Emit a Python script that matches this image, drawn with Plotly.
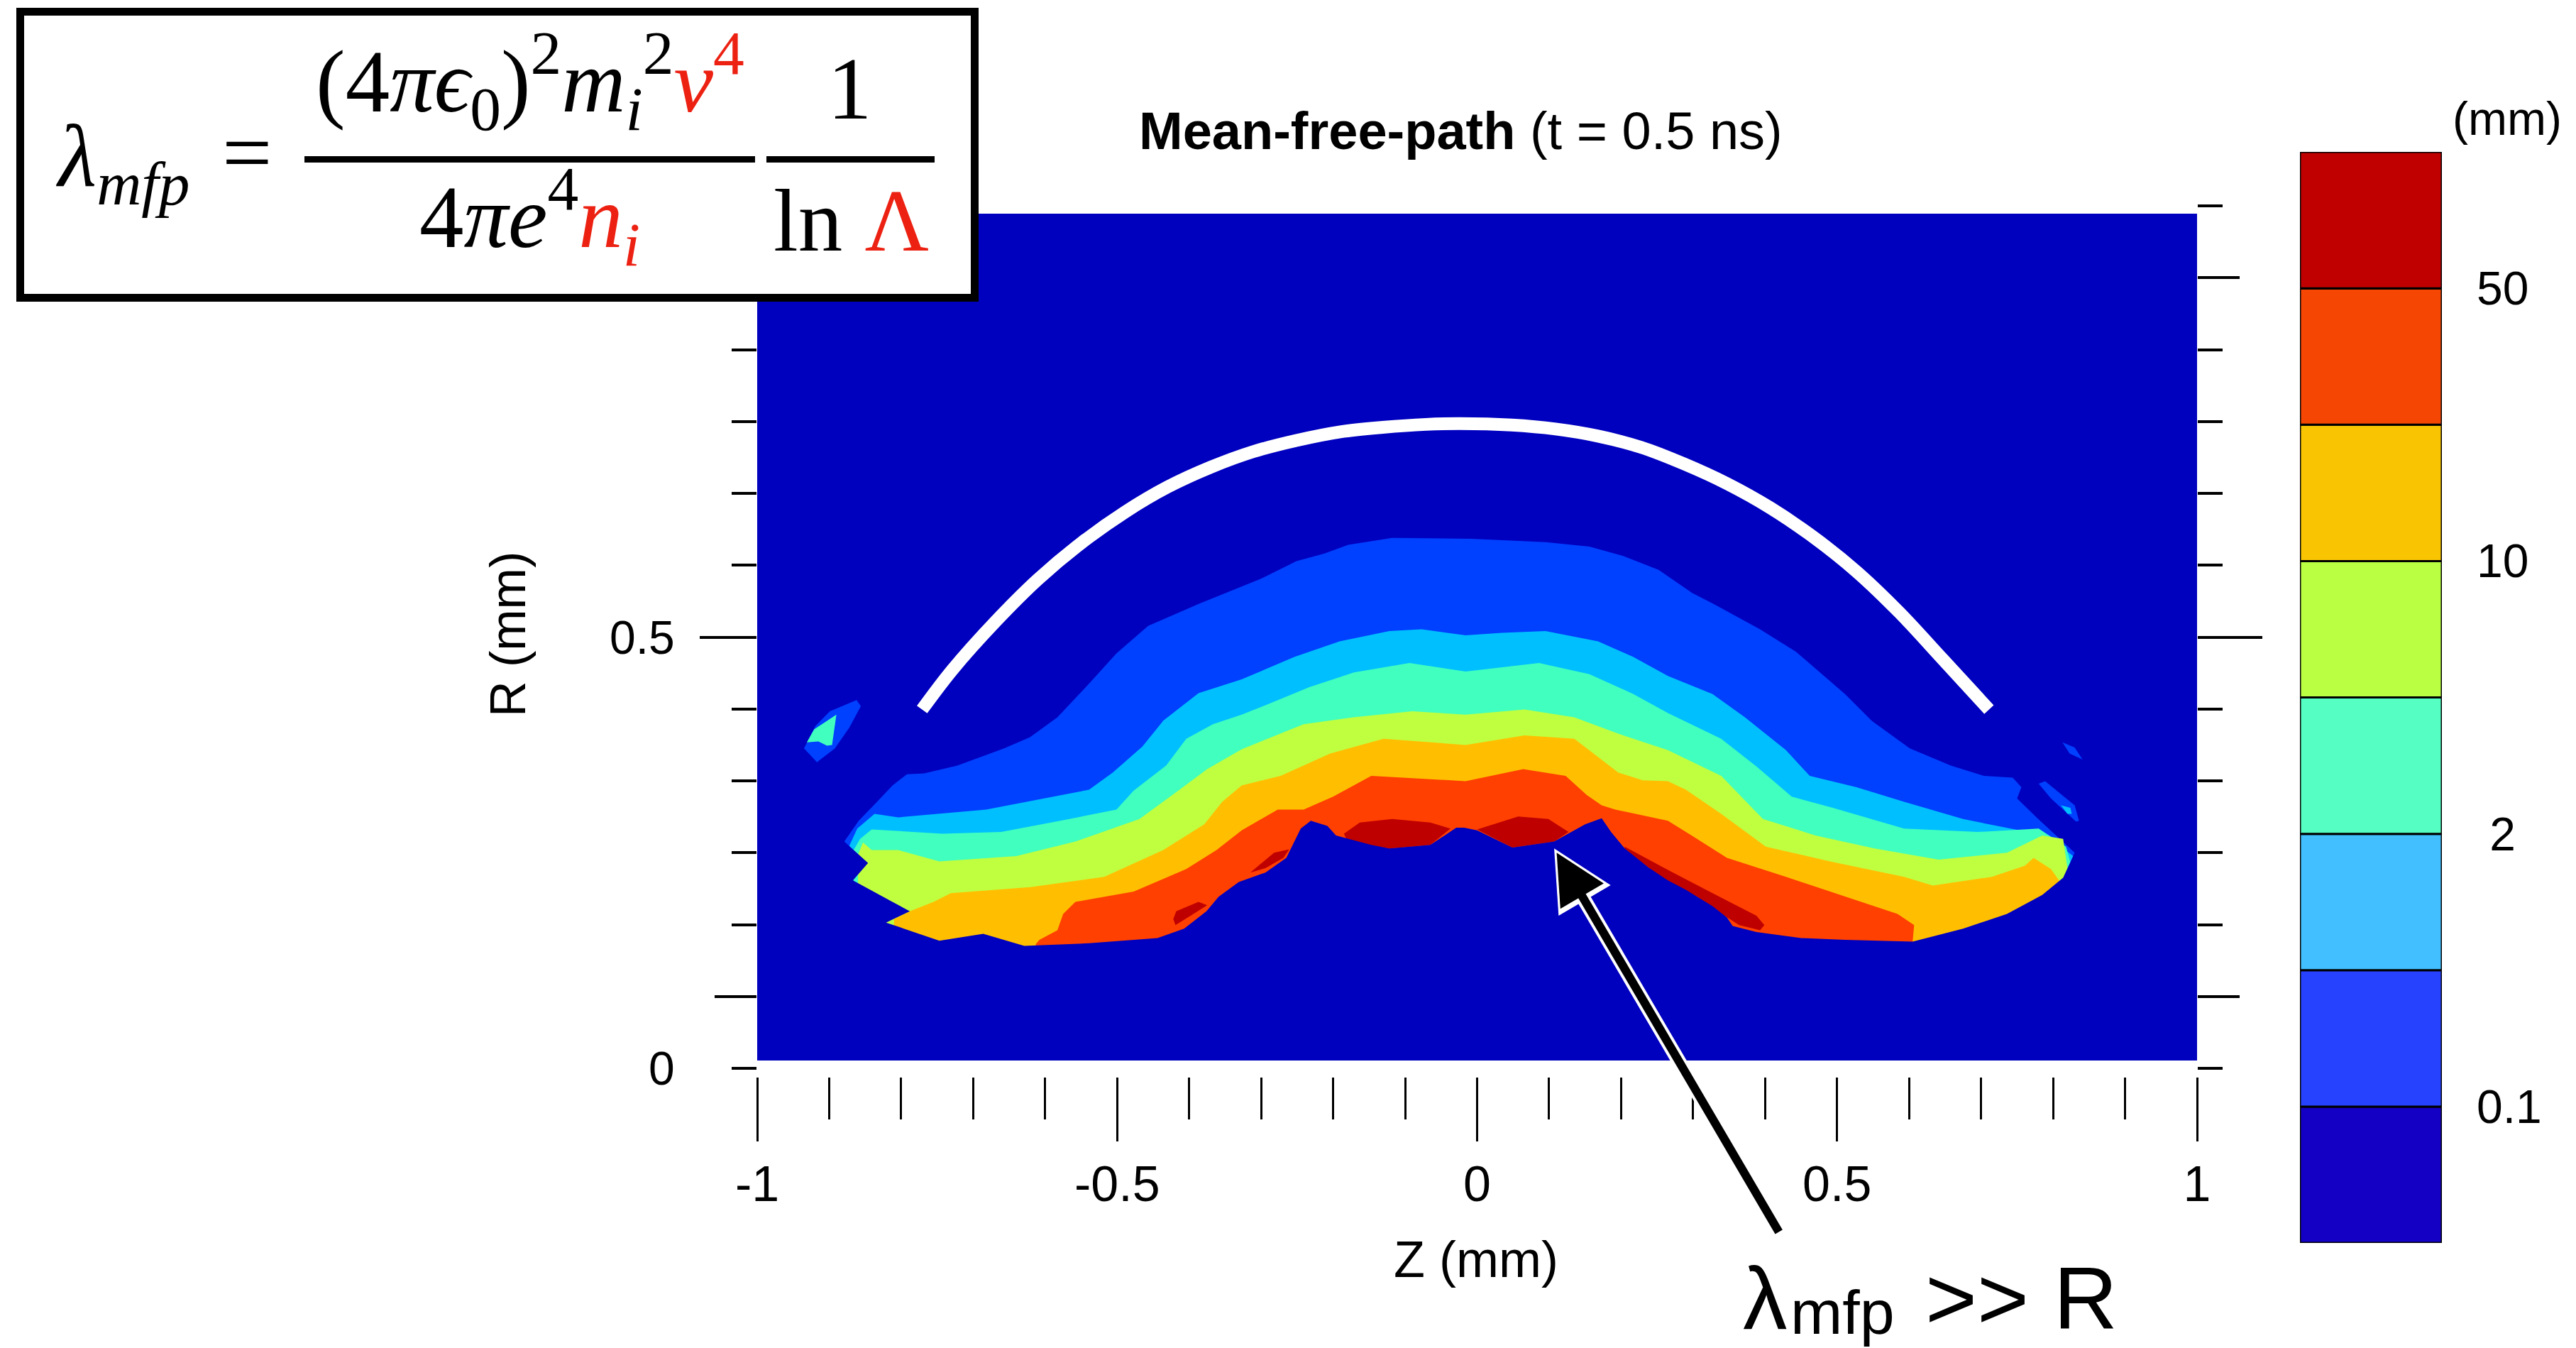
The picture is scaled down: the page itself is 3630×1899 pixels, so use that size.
import plotly.graph_objects as go

# ------------------------------------------------------------------ data (mm)
BAND_COLORS = ['#0000BF', '#0040FF', '#00BFFF', '#40FFBF', '#BFFF40', '#FFBF00', '#FF4000', '#BF0000']
CBAR_COLORS = ['#1400C4', '#2642FF', '#42BFFF', '#55FFC4', '#BBFF43', '#F9C502', '#F54703', '#C00000']
CBAR_BAND_HEIGHT = [1, 1, 1, 1, 1, 1, 1, 1]
CBAR_TICK_VALUES = [1, 3, 5, 7]
CBAR_TICK_TEXT = ['0.1', '\u00a02', '10', '50']

X_TICKS = [-1, -0.5, 0, 0.5, 1]
X_TICK_TEXT = ['-1', '-0.5', '0', '0.5', '1']
X_MINOR = [-0.9, -0.8, -0.7, -0.6, -0.4, -0.3, -0.2, -0.1, 0.1, 0.2, 0.3, 0.4, 0.6, 0.7, 0.8, 0.9]
Y_LABEL_TICKS = [0, 0.5]
Y_LABEL_TEXT = ['0', '0.5']
Y_TWELFTHS = [k / 12 for k in range(13)]
Y_MID_TICKS = [1 / 12, 11 / 12]
Y_LONG_TICKS = [0.5]

DOMAIN_Z = [-1.0, 1.0]
DOMAIN_R = [0.009, 0.991]

# upper boundaries of the filled levels (Z, R in mm)
LV1_Z = [-0.879, -0.859, -0.837, -0.812, -0.792, -0.768, -0.722, -0.657, -0.621, -0.583, -0.539, -0.501, -0.457,
         -0.385, -0.302, -0.251, -0.212, -0.179, -0.118, -0.008, 0.095, 0.156, 0.203, 0.252, 0.299, 0.327, 0.393,
         0.443, 0.511, 0.548, 0.601, 0.658, 0.704, 0.744, 0.756, 0.750, 0.777, 0.830]
LV1_R = [0.263, 0.287, 0.306, 0.328, 0.341, 0.342, 0.351, 0.371, 0.384, 0.407, 0.446, 0.481, 0.513,
         0.539, 0.567, 0.588, 0.597, 0.607, 0.615, 0.614, 0.610, 0.605, 0.594, 0.578, 0.551, 0.539, 0.509,
         0.483, 0.434, 0.403, 0.371, 0.351, 0.339, 0.337, 0.326, 0.313, 0.291, 0.250]

LV2_Z = [-0.872, -0.861, -0.837, -0.804, -0.682, -0.600, -0.539, -0.506, -0.465, -0.436, -0.387, -0.327, -0.254,
         -0.191, -0.122, -0.077, -0.016, 0.034, 0.095, 0.168, 0.217, 0.265, 0.327, 0.372, 0.429, 0.462, 0.527,
         0.593, 0.675, 0.765, 0.797, 0.828]
LV2_R = [0.258, 0.278, 0.295, 0.291, 0.300, 0.313, 0.323, 0.343, 0.373, 0.403, 0.435, 0.451, 0.477,
         0.495, 0.507, 0.509, 0.502, 0.505, 0.507, 0.495, 0.477, 0.455, 0.434, 0.407, 0.369, 0.339, 0.326,
         0.309, 0.289, 0.274, 0.266, 0.246]

LV3_Z = [-0.866, -0.857, -0.841, -0.743, -0.661, -0.579, -0.501, -0.477, -0.432, -0.404, -0.367, -0.327, -0.294,
         -0.233, -0.171, -0.094, -0.016, 0.086, 0.156, 0.217, 0.265, 0.339, 0.388, 0.437, 0.494, 0.593, 0.695,
         0.769, 0.780, 0.818, 0.824]
LV3_R = [0.253, 0.266, 0.277, 0.272, 0.274, 0.287, 0.300, 0.322, 0.351, 0.382, 0.399, 0.410, 0.421,
         0.442, 0.459, 0.470, 0.460, 0.470, 0.457, 0.434, 0.412, 0.382, 0.350, 0.315, 0.302, 0.278, 0.274,
         0.277, 0.278, 0.257, 0.239]

LV4_Z = [-0.860, -0.853, -0.841, -0.804, -0.747, -0.640, -0.558, -0.469, -0.415, -0.375, -0.327, -0.241, -0.172,
         -0.090, -0.016, 0.066, 0.135, 0.196, 0.265, 0.339, 0.397, 0.470, 0.552, 0.641, 0.736, 0.785, 0.814, 0.820]
LV4_R = [0.248, 0.262, 0.253, 0.253, 0.240, 0.246, 0.263, 0.289, 0.322, 0.347, 0.370, 0.399, 0.407,
         0.414, 0.410, 0.416, 0.407, 0.388, 0.369, 0.339, 0.289, 0.270, 0.255, 0.242, 0.250, 0.270, 0.266, 0.232]

LV5_Z = [-0.810, -0.788, -0.755, -0.731, -0.621, -0.518, -0.436, -0.379, -0.354, -0.327, -0.273, -0.204, -0.130,
         -0.016, 0.066, 0.135, 0.196, 0.230, 0.265, 0.290, 0.339, 0.401, 0.490, 0.593, 0.633, 0.715, 0.761,
         0.773, 0.797, 0.809]
LV5_R = [0.173, 0.182, 0.193, 0.203, 0.210, 0.222, 0.253, 0.283, 0.309, 0.328, 0.339, 0.365, 0.382,
         0.375, 0.386, 0.382, 0.343, 0.334, 0.333, 0.323, 0.295, 0.257, 0.240, 0.222, 0.212, 0.222, 0.235,
         0.244, 0.231, 0.217]

LV6_Z = [-0.613, -0.608, -0.583, -0.575, -0.558, -0.477, -0.404, -0.362, -0.327, -0.277, -0.241, -0.200, -0.147,
         -0.016, 0.064, 0.123, 0.152, 0.173, 0.192, 0.265, 0.298, 0.347, 0.429, 0.519, 0.584, 0.607, 0.605]
LV6_R = [0.144, 0.149, 0.160, 0.179, 0.193, 0.205, 0.231, 0.253, 0.276, 0.300, 0.300, 0.315, 0.339,
         0.333, 0.347, 0.339, 0.317, 0.305, 0.300, 0.287, 0.270, 0.244, 0.222, 0.197, 0.179, 0.166, 0.147]

# highest level (dark red) patches
RED_A_Z = [-0.422, -0.418, -0.387, -0.375, -0.396, -0.419]
RED_A_R = [0.173, 0.182, 0.193, 0.189, 0.178, 0.166]
RED_B_Z = [-0.315, -0.282, -0.261, -0.269, -0.294]
RED_B_R = [0.227, 0.250, 0.254, 0.244, 0.232]
RED_C_Z = [-0.185, -0.163, -0.118, -0.065, -0.037, -0.065, -0.122, -0.180]
RED_C_R = [0.272, 0.285, 0.289, 0.285, 0.278, 0.259, 0.255, 0.263]
RED_D_Z = [0.000, 0.057, 0.099, 0.127, 0.107, 0.049]
RED_D_R = [0.277, 0.292, 0.289, 0.274, 0.263, 0.256]
RED_E_Z = [0.205, 0.265, 0.327, 0.388, 0.399, 0.393, 0.364, 0.347, 0.323, 0.306, 0.265, 0.238, 0.205]
RED_E_R = [0.257, 0.230, 0.203, 0.177, 0.166, 0.160, 0.166, 0.175, 0.188, 0.199, 0.214, 0.233, 0.253]

# lower (inner) boundary of the shell
LOWER_Z = [-0.879, -0.846, -0.867, -0.788, -0.821, -0.747, -0.686, -0.629, -0.539, -0.444, -0.407, -0.376, -0.359,
           -0.331, -0.294, -0.265, -0.245, -0.231, -0.208, -0.196, -0.147, -0.122, -0.065, -0.029, -0.018, 0.000,
           0.049, 0.107, 0.150, 0.173, 0.186, 0.205, 0.238, 0.265, 0.290, 0.306, 0.327, 0.347, 0.355, 0.388,
           0.450, 0.511, 0.605, 0.675, 0.736, 0.785, 0.814, 0.830]
LOWER_R = [0.263, 0.238, 0.218, 0.182, 0.169, 0.148, 0.156, 0.142, 0.145, 0.151, 0.162, 0.182, 0.199,
           0.216, 0.227, 0.244, 0.278, 0.287, 0.281, 0.270, 0.259, 0.255, 0.259, 0.279, 0.279, 0.276,
           0.256, 0.263, 0.283, 0.290, 0.274, 0.255, 0.233, 0.218, 0.207, 0.199, 0.188, 0.175, 0.165, 0.158,
           0.151, 0.149, 0.147, 0.162, 0.179, 0.201, 0.221, 0.250]

# small isolated patches
BLOB_L_Z = [-0.935, -0.919, -0.899, -0.862, -0.856, -0.864, -0.872, -0.892, -0.917]
BLOB_L_R = [0.371, 0.397, 0.414, 0.427, 0.420, 0.407, 0.395, 0.371, 0.355]
BLOB_L_IN_Z = [-0.931, -0.921, -0.890, -0.896, -0.903, -0.915]
BLOB_L_IN_R = [0.378, 0.393, 0.410, 0.375, 0.374, 0.379]
BLOB_RA_Z = [0.813, 0.830, 0.841, 0.823]
BLOB_RA_R = [0.378, 0.372, 0.358, 0.365]
BLOB_RB_Z = [0.780, 0.789, 0.830, 0.836, 0.832, 0.797]
BLOB_RB_R = [0.330, 0.333, 0.305, 0.287, 0.286, 0.313]
BLOB_RB_IN_Z = [0.811, 0.824, 0.826, 0.820]
BLOB_RB_IN_R = [0.305, 0.302, 0.295, 0.295]

# white arc
ARC_Z = [-0.771, -0.729, -0.669, -0.610, -0.550, -0.489, -0.430, -0.370, -0.311, -0.251, -0.190, -0.131, -0.071,
         -0.024, 0.048, 0.109, 0.168, 0.228, 0.287, 0.347, 0.407, 0.467, 0.527, 0.586, 0.646, 0.711]
ARC_R = [0.416, 0.462, 0.518, 0.567, 0.609, 0.645, 0.674, 0.697, 0.715, 0.728, 0.738, 0.7432, 0.7466,
         0.7475, 0.7458, 0.7412, 0.733, 0.720, 0.701, 0.678, 0.650, 0.616, 0.576, 0.529, 0.475, 0.416]

# arrow (tip and tail, mm)
ARROW_TIP = (0.107, 0.255)
ARROW_TAIL = (0.420, -0.191)

# ------------------------------------------------------------------ layout helpers
W, H = 3630, 1899
M_L, M_R, M_T, M_B = 1067, 189, 214, 148
PW = W - M_L - M_R
PH = H - M_T - M_B


def px(X):
    return (X - M_L) / PW


def py(Y):
    return (H - M_B - Y) / PH


SANS = "Liberation Sans, Arial, Helvetica, sans-serif"
SERIF = "Liberation Serif, Times New Roman, DejaVu Serif, serif"
RED = "#EC2112"

fig = go.Figure()


def poly(z, r, color):
    fig.add_trace(go.Scatter(x=z, y=r, mode='lines', fill='toself', fillcolor=color,
                             line=dict(width=0, color=color), hoverinfo='skip', showlegend=False))


def below(z, r, base):
    return list(z) + [z[-1], z[0]], list(r) + [base, base]


base = DOMAIN_R[0]
poly([DOMAIN_Z[0], DOMAIN_Z[1], DOMAIN_Z[1], DOMAIN_Z[0]],
     [DOMAIN_R[0], DOMAIN_R[0], DOMAIN_R[1], DOMAIN_R[1]], BAND_COLORS[0])

levels = [(LV1_Z, LV1_R), (LV2_Z, LV2_R), (LV3_Z, LV3_R), (LV4_Z, LV4_R), (LV5_Z, LV5_R), (LV6_Z, LV6_R)]
for i, (z, r) in enumerate(levels):
    zz, rr = below(z, r, base)
    poly(zz, rr, BAND_COLORS[i + 1])

for z, r in [(RED_A_Z, RED_A_R), (RED_B_Z, RED_B_R), (RED_C_Z, RED_C_R), (RED_D_Z, RED_D_R), (RED_E_Z, RED_E_R)]:
    poly(z, r, BAND_COLORS[7])

# inner region (below the lower boundary), extended sideways to the domain edges
hz = list(LOWER_Z) + [DOMAIN_Z[1], DOMAIN_Z[1], DOMAIN_Z[0], DOMAIN_Z[0]]
hr = list(LOWER_R) + [LOWER_R[-1], base, base, LOWER_R[0]]
poly(hz, hr, BAND_COLORS[0])

poly(BLOB_L_Z, BLOB_L_R, BAND_COLORS[1])
poly(BLOB_L_IN_Z, BLOB_L_IN_R, BAND_COLORS[3])
poly(BLOB_RA_Z, BLOB_RA_R, BAND_COLORS[1])
poly(BLOB_RB_Z, BLOB_RB_R, BAND_COLORS[1])
poly(BLOB_RB_IN_Z, BLOB_RB_IN_R, BAND_COLORS[2])

fig.add_trace(go.Scatter(x=ARC_Z, y=ARC_R, mode='lines',
                         line=dict(color='white', width=18, shape='spline', smoothing=1.0),
                         hoverinfo='skip', showlegend=False))

# empty traces so that the tick-only overlay axes exist
for ya in ['y2', 'y3', 'y4', 'y5', 'y6']:
    fig.add_trace(go.Scatter(x=[], y=[], yaxis=ya, xaxis='x', showlegend=False))

# colour bar drawn as stacked blocks
fig.add_trace(go.Bar(x=[0] * len(CBAR_COLORS), y=CBAR_BAND_HEIGHT,
                     base=[sum(CBAR_BAND_HEIGHT[:i]) for i in range(len(CBAR_BAND_HEIGHT))],
                     width=1, marker=dict(color=CBAR_COLORS, line=dict(color='black', width=3)),
                     xaxis='x2', yaxis='y7', showlegend=False, hoverinfo='skip'))

# ------------------------------------------------------------------ axes
ydom = [py(1505), py(290)]
tickfont_y = dict(family=SANS, size=66, color='black')
common_y = dict(range=[0, 1], showgrid=False, zeroline=False, showline=False, anchor='x', domain=ydom,
                tickcolor='black', tickwidth=4, ticks='outside', tickmode='array')

fig.update_layout(
    width=W, height=H, autosize=False,
    margin=dict(l=M_L, r=M_R, t=M_T, b=M_B, pad=0),
    paper_bgcolor='white', plot_bgcolor='white',
    showlegend=False, barmode='overlay',
    xaxis=dict(range=DOMAIN_Z, domain=[0, px(3096)], anchor='free', position=py(1517),
               showgrid=False, zeroline=False, showline=False,
               tickmode='array', tickvals=X_TICKS, ticktext=X_TICK_TEXT,
               ticks='outside', ticklen=90, tickwidth=3, tickcolor='black',
               tickfont=dict(family=SANS, size=70, color='black'), ticklabelstandoff=0,
               minor=dict(tickmode='array', tickvals=X_MINOR, ticks='outside', ticklen=59,
                          tickwidth=3, tickcolor='black', showgrid=False)),
    yaxis=dict(**common_y, side='left', tickvals=Y_LABEL_TICKS, ticktext=Y_LABEL_TEXT, ticklen=35,
               tickfont=tickfont_y, ticklabelstandoff=67,
               minor=dict(tickmode='array', tickvals=Y_TWELFTHS, ticks='outside', ticklen=35,
                          tickwidth=4, tickcolor='black', showgrid=False)),
    yaxis2=dict(**common_y, overlaying='y', side='left', tickvals=Y_MID_TICKS, ticklen=59, showticklabels=False),
    yaxis3=dict(**common_y, overlaying='y', side='left', tickvals=Y_LONG_TICKS, ticklen=80, showticklabels=False),
    yaxis4=dict(**common_y, overlaying='y', side='right', tickvals=Y_TWELFTHS, ticklen=35, showticklabels=False),
    yaxis5=dict(**common_y, overlaying='y', side='right', tickvals=Y_MID_TICKS, ticklen=59, showticklabels=False),
    yaxis6=dict(**common_y, overlaying='y', side='right', tickvals=Y_LONG_TICKS, ticklen=91, showticklabels=False),
    xaxis2=dict(domain=[px(3241), px(3441)], range=[-0.5, 0.5], anchor='y7', visible=False, fixedrange=True),
    yaxis7=dict(domain=[py(1751), py(214)], range=[0, sum(CBAR_BAND_HEIGHT)], anchor='x2', side='right',
                showgrid=False, zeroline=False, showline=False, tickmode='array',
                tickvals=CBAR_TICK_VALUES, ticktext=CBAR_TICK_TEXT, ticks='',
                tickfont=dict(family=SANS, size=66, color='black'), ticklabelstandoff=48),
)

# ------------------------------------------------------------------ formula box
fig.add_shape(type='rect', xref='paper', yref='paper', x0=px(28.5), x1=px(1373.5), y0=py(419.5), y1=py(16.5),
              line=dict(color='black', width=11), fillcolor='white', layer='above')
fig.add_shape(type='line', xref='paper', yref='paper', x0=px(429), x1=px(1064), y0=py(224.5), y1=py(224.5),
              line=dict(color='black', width=9), layer='above')
fig.add_shape(type='line', xref='paper', yref='paper', x0=px(1080), x1=px(1317), y0=py(224.5), y1=py(224.5),
              line=dict(color='black', width=9), layer='above')

annotations = []


def txt(text, X, Y, size, family=SANS, color='black', **kw):
    annotations.append(dict(text=text, x=px(X), y=py(Y), xref='paper', yref='paper', showarrow=False,
                            xanchor='center', yanchor='middle', font=dict(family=family, size=size, color=color),
                            **kw))


F = 125
txt('<i>λ</i><sub><i>mfp</i></sub>', 172, 229, F, SERIF)
txt('=', 348, 215, F, SERIF)
txt('(4<i>πϵ</i><sub>0</sub>)<sup>2</sup><i>m</i><sub><i>i</i></sub><sup>2</sup>'
    '<span style="color:%s"><i>v</i><sup>4</sup></span>' % RED, 747, 114, F, SERIF)
txt('1', 1197, 125, F, SERIF)
txt('4<i>πe</i><sup>4</sup><span style="color:%s"><i>n</i><sub><i>i</i></sub></span>' % RED, 746, 305, F, SERIF)
txt('ln <span style="color:%s">Λ</span>' % RED, 1199, 311, F, SERIF)

txt('<b>Mean-free-path</b> (t = 0.5 ns)', 2058, 184, 74)
txt('(mm)', 3533, 167, 66)
txt('Z (mm)', 2080, 1774, 72)
txt('R (mm)', 716, 894, 70, textangle=-90)

# "λmfp >> R" built from three pieces so the subscript sits like the original
txt('λ', 2487, 1829, 125)
txt('mfp', 2596, 1848, 88)
txt('>> R', 2848, 1829, 125)

# arrow: white outline under a black arrow
for col, wdt, sz, so in [('white', 20, 0.85, 0), ('black', 12, 1.18, 7)]:
    annotations.append(dict(text='', x=ARROW_TIP[0], y=ARROW_TIP[1], xref='x', yref='y',
                            ax=ARROW_TAIL[0], ay=ARROW_TAIL[1], axref='x', ayref='y',
                            showarrow=True, arrowhead=2, arrowsize=sz, arrowwidth=wdt, arrowcolor=col,
                            standoff=so))

fig.update_layout(annotations=annotations)

fig.write_html("out.html")
